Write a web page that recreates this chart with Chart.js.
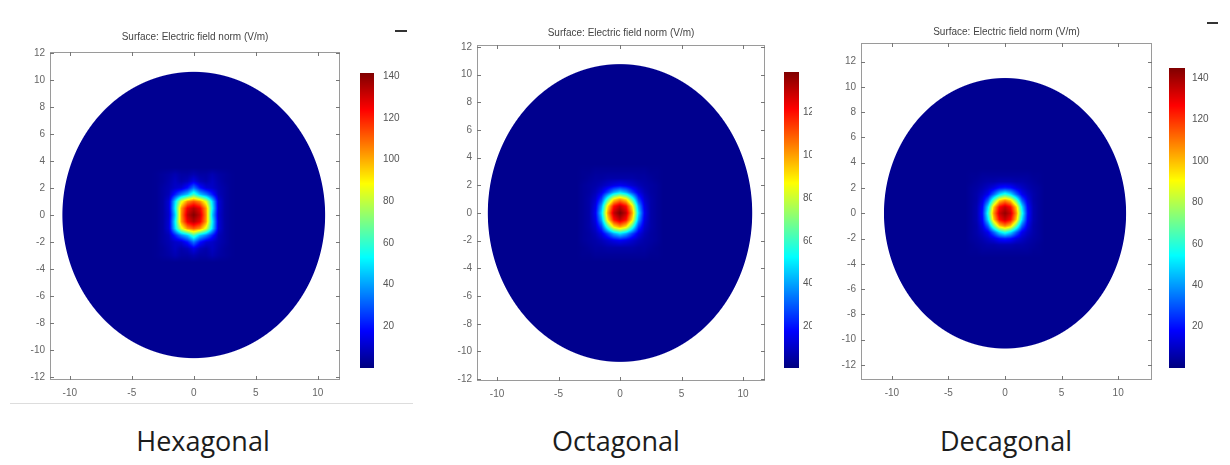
<!DOCTYPE html>
<html>
<head>
<meta charset="utf-8">
<script src="https://cdn.jsdelivr.net/npm/chart.js@4.4.0/dist/chart.umd.min.js"></script>
<style>
  body { margin: 0; background: #fff; width: 1230px; height: 465px; position: relative; overflow: hidden; }
  canvas { position: absolute; top: 0; }
  .caption { position: absolute; top: 422px; font-family: 'Open Sans', sans-serif; font-size: 27px; color: #1c1c1c; transform: translateX(-50%); white-space: nowrap; }
</style>
</head>
<body>
<canvas id="hex" width="420" height="410" style="left:0px"></canvas>
<canvas id="oct" width="392" height="410" style="left:420px"></canvas>
<canvas id="dec" width="410" height="410" style="left:820px"></canvas>
<div class="caption" style="left:203px">Hexagonal</div>
<div class="caption" style="left:616px">Octagonal</div>
<div class="caption" style="left:1006px">Decagonal</div>
<script>
const captions = ['Hexagonal', 'Octagonal', 'Decagonal'];
const plotTitle = 'Surface: Electric field norm (V/m)';
const xTicks = [-10, -5, 0, 5, 10];
const yTicks = [-12, -10, -8, -6, -4, -2, 0, 2, 4, 6, 8, 10, 12];

// field samples (V/m), cell centres from -3 to 3, rows from y = 3 down to y = -3
const cellCentres = [-3, -2.5, -2, -1.5, -1, -0.5, 0, 0.5, 1, 1.5, 2, 2.5, 3];
const discRadius = [10.6, 10.75, 10.7];
const fieldBackground = [2.5, 2.5, 2.5];
const colorRange = [[0, 141.5], [0.5, 139], [0, 145]];
const colorTicks = [
  [20, 40, 60, 80, 100, 120, 140],
  [20, 40, 60, 80, 100, 120],
  [20, 40, 60, 80, 100, 120, 140],
];

const hexField = [
  [3, 4, 5, 7, 5, 5, 7, 5, 5, 7, 5, 4, 3],
  [3, 4, 6, 9, 6, 8, 14, 8, 6, 9, 6, 4, 3],
  [3, 5, 7, 10, 12, 20, 34, 20, 12, 10, 7, 5, 3],
  [3, 5, 8, 22, 36, 46, 64, 46, 36, 22, 8, 5, 3],
  [3, 5, 12, 48, 84, 104, 112, 104, 84, 48, 12, 5, 3],
  [3, 5, 12, 52, 102, 126, 134, 126, 102, 52, 12, 5, 3],
  [3, 5, 11, 46, 104, 132, 141, 132, 104, 46, 11, 5, 3],
  [3, 5, 12, 52, 102, 126, 134, 126, 102, 52, 12, 5, 3],
  [3, 5, 12, 48, 84, 104, 112, 104, 84, 48, 12, 5, 3],
  [3, 5, 8, 22, 36, 46, 64, 46, 36, 22, 8, 5, 3],
  [3, 5, 7, 10, 12, 20, 34, 20, 12, 10, 7, 5, 3],
  [3, 4, 6, 9, 6, 8, 14, 8, 6, 9, 6, 4, 3],
  [3, 4, 5, 7, 5, 5, 7, 5, 5, 7, 5, 4, 3],
];

const octField = [
  [3, 3, 4, 4, 4, 4, 4, 4, 4, 4, 4, 3, 3],
  [3, 4, 5, 5, 6, 6, 6, 6, 6, 5, 5, 4, 3],
  [4, 5, 6, 8, 11, 14, 16, 14, 11, 8, 6, 5, 4],
  [4, 5, 8, 14, 26, 40, 48, 40, 26, 14, 8, 5, 4],
  [4, 6, 11, 26, 60, 90, 100, 90, 60, 26, 11, 6, 4],
  [4, 6, 14, 40, 90, 120, 130, 120, 90, 40, 14, 6, 4],
  [4, 6, 16, 48, 100, 130, 140, 130, 100, 48, 16, 6, 4],
  [4, 6, 14, 40, 90, 120, 130, 120, 90, 40, 14, 6, 4],
  [4, 6, 11, 26, 60, 90, 100, 90, 60, 26, 11, 6, 4],
  [4, 5, 8, 14, 26, 40, 48, 40, 26, 14, 8, 5, 4],
  [4, 5, 6, 8, 11, 14, 16, 14, 11, 8, 6, 5, 4],
  [3, 4, 5, 5, 6, 6, 6, 6, 6, 5, 5, 4, 3],
  [3, 3, 4, 4, 4, 4, 4, 4, 4, 4, 4, 3, 3],
];

const decField = [
  [3, 3, 4, 4, 4, 4, 4, 4, 4, 4, 4, 3, 3],
  [3, 4, 5, 6, 6, 7, 7, 7, 6, 6, 5, 4, 3],
  [4, 5, 7, 10, 14, 20, 22, 20, 14, 10, 7, 5, 4],
  [4, 6, 10, 16, 32, 50, 60, 50, 32, 16, 10, 6, 4],
  [4, 6, 14, 32, 68, 98, 108, 98, 68, 32, 14, 6, 4],
  [4, 7, 18, 50, 98, 126, 135, 126, 98, 50, 18, 7, 4],
  [4, 7, 20, 58, 106, 134, 142, 134, 106, 58, 20, 7, 4],
  [4, 7, 18, 50, 98, 126, 135, 126, 98, 50, 18, 7, 4],
  [4, 6, 14, 32, 68, 98, 108, 98, 68, 32, 14, 6, 4],
  [4, 6, 10, 16, 32, 50, 60, 50, 32, 16, 10, 6, 4],
  [4, 5, 7, 10, 14, 20, 22, 20, 14, 10, 7, 5, 4],
  [3, 4, 5, 6, 6, 7, 7, 7, 6, 6, 5, 4, 3],
  [3, 3, 4, 4, 4, 4, 4, 4, 4, 4, 4, 3, 3],
];

const fields = [hexField, octField, decField];

// layout of each panel (canvas pixels)
const panels = [
  { id: 'hex', xr: [-11.6, 11.8], yr: [-12.22, 12.07], pad: { left: 0, top: 52, right: 80, bottom: 5 }, yW: 50, xH: 25,
    titleY: 37, bar: { x: 360, w: 14, top: 73, bottom: 368, labelX: 383 }, dash: [395, 407, 31], rule: 403 },
  { id: 'oct', xr: [-11.63, 11.79], yr: [-12.13, 12.13], pad: { left: 0, top: 45, right: 47, bottom: 5 }, yW: 57, xH: 24,
    titleY: 33, bar: { x: 364, w: 15, top: 72, bottom: 368, labelX: 383 }, dash: null, rule: null },
  { id: 'dec', xr: [-12.73, 12.99], yr: [-13.19, 13.47], pad: { left: 0, top: 43, right: 78, bottom: 5 }, yW: 41, xH: 25,
    titleY: 32, bar: { x: 349, w: 16, top: 68, bottom: 368, labelX: 372 }, dash: [387, 398, 23], rule: null },
];

const tickFont = { family: '"Liberation Sans", Arial, sans-serif', size: 10 };

function jet(t) {
  t = Math.max(0, Math.min(1, t));
  const c = (v) => Math.round(255 * Math.max(0, Math.min(1, v)));
  return [c(Math.min(4 * t - 1.5, -4 * t + 4.5)), c(Math.min(4 * t - 0.5, -4 * t + 3.5)), c(Math.min(4 * t + 0.5, -4 * t + 2.5))];
}

function makePlugin(k) {
  const p = panels[k];
  const [vmin, vmax] = colorRange[k];
  const n = cellCentres.length;
  const step = cellCentres[1] - cellCentres[0];
  return {
    id: 'field' + k,
    beforeDatasetsDraw(chart) {
      const { ctx, chartArea: a, scales: { x, y } } = chart;
      const cells = chart.data.datasets[0].data;
      const bg = fieldBackground[k];
      const R = discRadius[k];
      const pxU = (x.getPixelForValue(1) - x.getPixelForValue(0) + y.getPixelForValue(0) - y.getPixelForValue(1)) / 2;
      const L = Math.round(a.left), T = Math.round(a.top);
      const W = Math.round(a.right) - L, H = Math.round(a.bottom) - T;
      const img = ctx.createImageData(W, H);
      const get = (i, j) => (i < 0 || j < 0 || i >= n || j >= n ? bg : cells[j * n + i].v);
      for (let j = 0; j < H; j++) {
        const yv = y.getValueForPixel(T + j + 0.5);
        for (let i = 0; i < W; i++) {
          const xv = x.getValueForPixel(L + i + 0.5);
          const rr = Math.sqrt(xv * xv + yv * yv);
          const alpha = Math.max(0, Math.min(1, (R - rr) * pxU + 0.5));
          let col = [255, 255, 255];
          if (alpha > 0) {
            const fx = (xv - cellCentres[0]) / step;
            const fy = (cellCentres[n - 1] - yv) / step;
            let v = bg;
            if (fx > -1 && fx < n && fy > -1 && fy < n) {
              const i0 = Math.floor(fx), j0 = Math.floor(fy);
              const dx = fx - i0, dy = fy - j0;
              v = get(i0, j0) * (1 - dx) * (1 - dy) + get(i0 + 1, j0) * dx * (1 - dy) +
                  get(i0, j0 + 1) * (1 - dx) * dy + get(i0 + 1, j0 + 1) * dx * dy;
            }
            const c = jet((v - vmin) / (vmax - vmin));
            col = c.map((cv) => Math.round(alpha * cv + (1 - alpha) * 255));
          }
          const o = (j * W + i) * 4;
          img.data[o] = col[0]; img.data[o + 1] = col[1]; img.data[o + 2] = col[2]; img.data[o + 3] = 255;
        }
      }
      ctx.putImageData(img, L, T);
    },
    afterDraw(chart) {
      const { ctx, chartArea: a, scales: { x, y } } = chart;
      ctx.save();
      // frame with inward ticks
      ctx.strokeStyle = '#9a9a9a';
      ctx.lineWidth = 1;
      ctx.strokeRect(Math.round(a.left) + 0.5, Math.round(a.top) + 0.5, Math.round(a.right - a.left) - 1, Math.round(a.bottom - a.top) - 1);
      ctx.strokeStyle = '#777';
      ctx.beginPath();
      xTicks.forEach((v) => {
        const px = Math.round(x.getPixelForValue(v)) + 0.5;
        ctx.moveTo(px, a.top); ctx.lineTo(px, a.top + 4);
        ctx.moveTo(px, a.bottom); ctx.lineTo(px, a.bottom - 4);
      });
      yTicks.forEach((v) => {
        const py = Math.round(y.getPixelForValue(v)) + 0.5;
        ctx.moveTo(a.left, py); ctx.lineTo(a.left + 4, py);
        ctx.moveTo(a.right, py); ctx.lineTo(a.right - 4, py);
      });
      ctx.stroke();
      // title
      ctx.fillStyle = '#444';
      ctx.font = '10px "Liberation Sans", Arial, sans-serif';
      ctx.textAlign = 'center';
      ctx.textBaseline = 'middle';
      ctx.fillText(plotTitle, (a.left + a.right) / 2, p.titleY);
      // colour bar
      const b = p.bar;
      const h = b.bottom - b.top;
      for (let py = b.top; py < b.bottom; py++) {
        const v = vmax - ((py - b.top + 0.5) / h) * (vmax - vmin);
        const c = jet((v - vmin) / (vmax - vmin));
        ctx.fillStyle = `rgb(${c[0]},${c[1]},${c[2]})`;
        ctx.fillRect(b.x, py, b.w, 1);
      }
      ctx.fillStyle = '#555';
      ctx.textAlign = 'left';
      colorTicks[k].forEach((v) => {
        const py = b.top + ((vmax - v) / (vmax - vmin)) * h;
        ctx.fillText(String(v), b.labelX, py);
      });
      if (p.dash) {
        ctx.strokeStyle = '#333';
        ctx.lineWidth = 2;
        ctx.beginPath();
        ctx.moveTo(p.dash[0], p.dash[2]); ctx.lineTo(p.dash[1], p.dash[2]);
        ctx.stroke();
      }
      if (p.rule) {
        ctx.strokeStyle = '#ddd';
        ctx.lineWidth = 1;
        ctx.beginPath();
        ctx.moveTo(10, p.rule + 0.5); ctx.lineTo(413, p.rule + 0.5);
        ctx.stroke();
      }
      ctx.restore();
    },
  };
}

panels.forEach((p, k) => {
  const cells = [];
  fields[k].forEach((row, r) => {
    row.forEach((v, c) => cells.push({ x: cellCentres[c], y: cellCentres[cellCentres.length - 1 - r], v }));
  });
  new Chart(document.getElementById(p.id), {
    type: 'scatter',
    data: { datasets: [{ label: captions[k], data: cells, pointRadius: 0, pointHoverRadius: 0 }] },
    options: {
      responsive: false,
      animation: false,
      events: [],
      layout: { padding: p.pad },
      scales: {
        x: {
          type: 'linear', min: p.xr[0], max: p.xr[1],
          grid: { display: false, drawTicks: false }, border: { display: false },
          ticks: { font: tickFont, color: '#666', padding: 7 },
          afterBuildTicks: (s) => { s.ticks = xTicks.map((v) => ({ value: v })); },
          afterFit: (s) => { s.height = p.xH; },
        },
        y: {
          type: 'linear', min: p.yr[0], max: p.yr[1],
          grid: { display: false, drawTicks: false }, border: { display: false },
          ticks: { font: tickFont, color: '#666', padding: 5 },
          afterBuildTicks: (s) => { s.ticks = yTicks.map((v) => ({ value: v })); },
          afterFit: (s) => { s.width = p.yW; },
        },
      },
      plugins: { legend: { display: false }, tooltip: { enabled: false } },
    },
    plugins: [makePlugin(k)],
  });
});
</script>
</body>
</html>
